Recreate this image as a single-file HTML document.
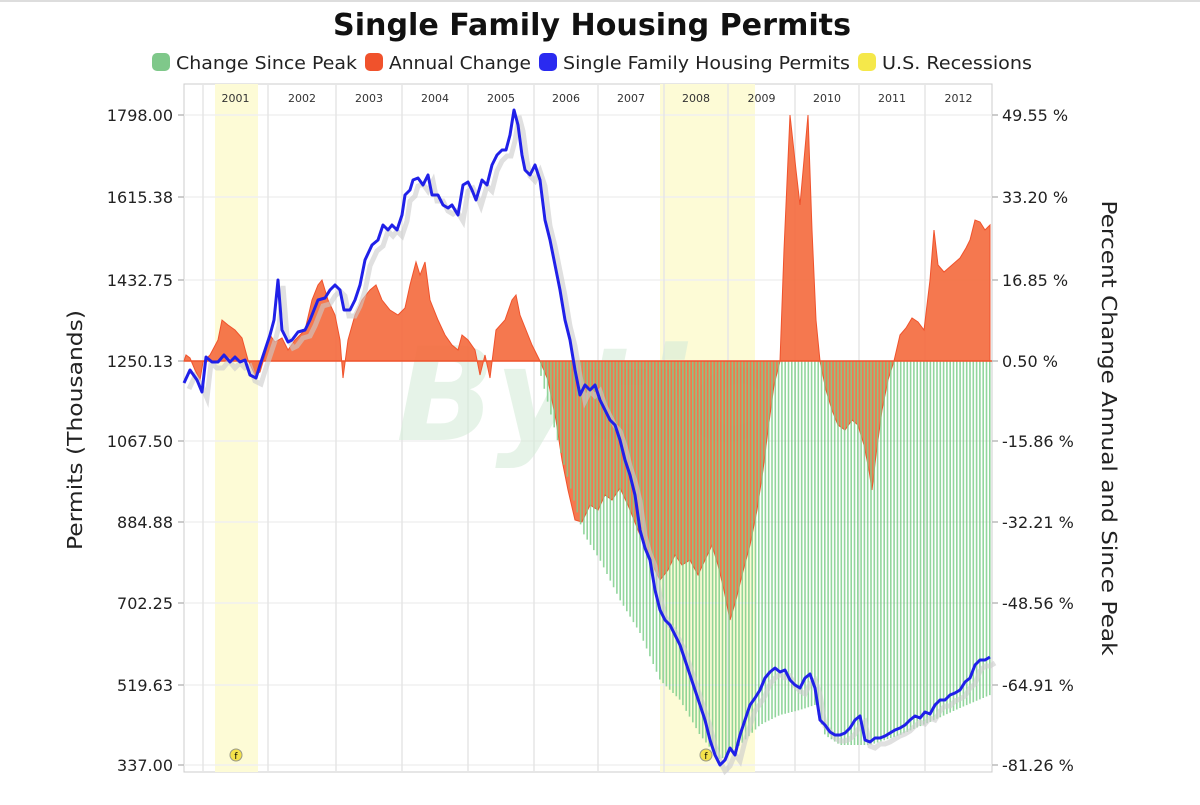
<!DOCTYPE html>
<html><head><meta charset="utf-8"><style>
body{margin:0;background:#fff;}
svg text{font-family:"DejaVu Sans","Liberation Sans",sans-serif;}
</style></head><body>
<svg id="s" width="1200" height="800" xmlns="http://www.w3.org/2000/svg">
<rect x="0" y="0" width="1200" height="800" fill="#fff"/>
<line x1="0" y1="1" x2="1200" y2="1" stroke="#ddd" stroke-width="2"/>
<text x="592" y="35" text-anchor="middle" font-size="30" font-weight="bold" fill="#111" textLength="518" lengthAdjust="spacingAndGlyphs">Single Family Housing Permits</text>
<g font-size="18" fill="#222">
<rect x="152" y="53" width="18" height="18" rx="5" fill="#7fc88a"/><text x="176" y="69" textLength="181" lengthAdjust="spacingAndGlyphs">Change Since Peak</text>
<rect x="365" y="53" width="18" height="18" rx="5" fill="#f0522c"/><text x="389" y="69" textLength="142" lengthAdjust="spacingAndGlyphs">Annual Change</text>
<rect x="539" y="53" width="18" height="18" rx="5" fill="#2a2af0"/><text x="563" y="69" textLength="287" lengthAdjust="spacingAndGlyphs">Single Family Housing Permits</text>
<rect x="858" y="53" width="18" height="18" rx="5" fill="#f5e84a"/><text x="882" y="69" textLength="150" lengthAdjust="spacingAndGlyphs">U.S. Recessions</text>
</g>
<rect x="184" y="84" width="808" height="688" fill="#fff" stroke="#ccc"/>
<rect x="215" y="84" width="43" height="688" fill="#fdfbd6"/>
<rect x="660" y="84" width="95" height="688" fill="#fdfbd6"/>
<g id="grid" stroke="#e6e6e6" stroke-width="1.5"></g>
<g id="years" font-size="11" fill="#333" text-anchor="middle"></g>
<text x="580" y="440" font-size="130" font-style="italic" font-weight="bold" fill="#d6ecd9" opacity="0.6" text-anchor="middle">Bytic</text>
<path id="orange" fill="#f4693c" fill-opacity="0.9" stroke="#f0522c" stroke-width="1"/>
<g id="green" stroke="#7fcf8c" stroke-width="1.6" opacity="0.85"></g>
<line x1="184" y1="361" x2="992" y2="361" stroke="#f0522c" stroke-width="1.5"/>
<polyline id="shadow" fill="none" stroke="#ccc" stroke-width="5" opacity="0.6"/>
<polyline id="blue" fill="none" stroke="#2020e8" stroke-width="3" stroke-linejoin="round"/>
<circle cx="236" cy="755" r="6" fill="#f3e24a" stroke="#998" /><text x="236" y="759" font-size="9" text-anchor="middle">f</text>
<circle cx="706" cy="755" r="6" fill="#f3e24a" stroke="#998" /><text x="706" y="759" font-size="9" text-anchor="middle">f</text>
<g id="left" font-size="16" fill="#222" text-anchor="end"></g>
<g id="right" font-size="16" fill="#222"></g>
<text transform="translate(82,430) rotate(-90)" font-size="20" fill="#222" text-anchor="middle" textLength="240" lengthAdjust="spacingAndGlyphs">Permits (Thousands)</text>
<text transform="translate(1102,428) rotate(90)" font-size="20" fill="#222" text-anchor="middle" textLength="455" lengthAdjust="spacingAndGlyphs">Percent Change Annual and Since Peak</text>
</svg>
<script>
var NS="http://www.w3.org/2000/svg";
function el(t,a,p,txt){var e=document.createElementNS(NS,t);for(var k in a)e.setAttribute(k,a[k]);if(txt)e.textContent=txt;document.getElementById(p).appendChild(e);}
var ys=[115,197,280,361,441,522,603,685,765];
var L=["1798.00","1615.38","1432.75","1250.13","1067.50","884.88","702.25","519.63","337.00"];
var R=["49.55 %","33.20 %","16.85 %","0.50 %","-15.86 %","-32.21 %","-48.56 %","-64.91 %","-81.26 %"];
ys.forEach(function(y,i){el("line",{x1:184,y1:y,x2:992,y2:y,stroke:"#f0f0f0"},"grid");
el("line",{x1:178,y1:y,x2:184,y2:y,stroke:"#bbb"},"grid");el("line",{x1:992,y1:y,x2:998,y2:y,stroke:"#bbb"},"grid");
el("text",{x:173,y:y+6},"left",L[i]);el("text",{x:1002,y:y+6},"right",R[i]);});
var gx=[203,268,336,402,468,534,598,664,728,795,859,925,992];
for(var i=0;i<12;i++){el("line",{x1:gx[i],y1:84,x2:gx[i],y2:772},"grid");
el("text",{x:(gx[i]+gx[i+1])/2,y:102},"years",String(2001+i));}
var env=[[540,372],[560,450],[583,533],[600,560],[620,600],[640,633],[660,680],[680,700],[700,735],[720,760],[740,745],[760,725],[780,715],[800,710],[815,705],[825,735],[840,745],[870,745],[900,735],[930,722],[960,708],[990,695]];
function interp(x){for(var i=0;i<env.length-1;i++){if(x>=env[i][0]&&x<=env[i+1][0]){var t=(x-env[i][0])/(env[i+1][0]-env[i][0]);return env[i][1]+t*(env[i+1][1]-env[i][1]);}}return 361;}
for(var x=541;x<=990;x+=3.3){el("line",{x1:x,y1:361,x2:x,y2:interp(x)},"green");}
var o=[[184,361],[186,355],[190,358],[195,370],[200,380],[203,362],[210,355],[218,340],[222,320],[228,325],[235,330],[242,338],[248,360],[255,375],[260,372],[265,355],[270,335],[275,342],[282,338],[288,350],[295,340],[305,330],[312,300],[318,285],[322,280],[328,300],[335,315],[340,340],[343,378],[348,340],[355,315],[362,300],[370,290],[376,285],[382,300],[390,310],[398,315],[405,308],[410,285],[416,262],[420,275],[425,262],[430,300],[438,320],[445,335],[452,345],[458,350],[462,335],[468,340],[475,350],[480,375],[485,355],[490,378],[496,330],[505,320],[512,300],[516,295],[520,315],[526,330],[532,345],[540,361],[548,380],[556,420],[562,460],[568,490],[575,520],[582,522],[590,505],[598,510],[605,495],[612,500],[620,488],[628,505],[636,525],[642,540],[650,560],[660,580],[668,570],[675,555],[682,565],[690,560],[698,575],[705,560],[712,545],[718,565],[724,590],[730,620],[736,600],[742,575],[750,545],[757,510],[763,470],[768,430],[774,385],[780,361],[784,250],[790,115],[796,170],[800,205],[804,160],[808,115],[812,230],[816,320],[820,361],[826,390],[832,410],[838,425],[845,430],[852,420],[858,425],[864,445],[869,470],[872,490],[876,455],[882,410],[888,380],[894,361],[900,335],[906,328],[912,318],[918,322],[924,330],[930,280],[934,230],[938,265],[944,272],[952,265],[960,258],[966,248],[970,240],[975,220],[980,222],[985,230],[990,225],[990,361]];
document.getElementById("orange").setAttribute("d","M"+o.map(function(p){return p.join(",")}).join(" L")+" Z");
var b=[[184,383],[190,370],[197,380],[202,392],[206,357],[212,362],[218,362],[224,355],[230,362],[235,357],[240,362],[245,360],[250,375],[256,378],[260,365],[265,350],[270,335],[274,320],[278,280],[282,330],[288,342],[292,340],[298,332],[305,330],[310,320],[318,300],[325,298],[330,290],[335,285],[340,290],[344,310],[350,310],[355,300],[360,285],[365,260],[372,245],[378,240],[383,225],[388,230],[392,225],[397,230],[402,215],[405,195],[410,190],[413,180],[418,178],[423,185],[428,175],[432,195],[438,195],[443,205],[448,208],[452,205],[458,215],[463,185],[468,182],[472,190],[476,200],[482,180],[487,185],[492,165],[497,155],[502,150],[506,150],[510,135],[514,110],[518,125],[522,155],[525,170],[530,175],[535,165],[540,180],[545,220],[550,240],[555,265],[560,290],[565,320],[570,340],[575,370],[580,395],[585,385],[590,390],[595,385],[600,400],[605,410],[610,420],[615,425],[620,440],[625,460],[630,475],[635,495],[640,530],[645,548],[650,560],[655,590],[660,610],[665,620],[670,625],[675,635],[680,645],[685,660],[690,675],[695,690],[700,705],[705,720],[710,740],[715,755],[720,765],[725,760],[730,748],[735,755],[740,735],[745,720],[750,705],[755,698],[760,690],[765,678],[770,672],[775,668],[780,672],[785,670],[790,680],[795,685],[800,688],[805,678],[810,674],[815,688],[820,720],[825,725],[830,732],[835,735],[840,735],[845,733],[850,728],[855,720],[860,716],[865,740],[870,742],[875,738],[880,738],[885,736],[890,733],[895,730],[900,728],[905,725],[910,720],[915,716],[920,718],[925,712],[930,714],[935,705],[940,700],[945,700],[950,695],[955,693],[960,690],[965,682],[970,678],[975,665],[980,660],[985,660],[990,657]];
document.getElementById("blue").setAttribute("points",b.map(function(p){return p.join(",")}).join(" "));
document.getElementById("shadow").setAttribute("points",b.map(function(p){return (p[0]+5)+","+(p[1]+6)}).join(" "));
</script>
</body></html>
